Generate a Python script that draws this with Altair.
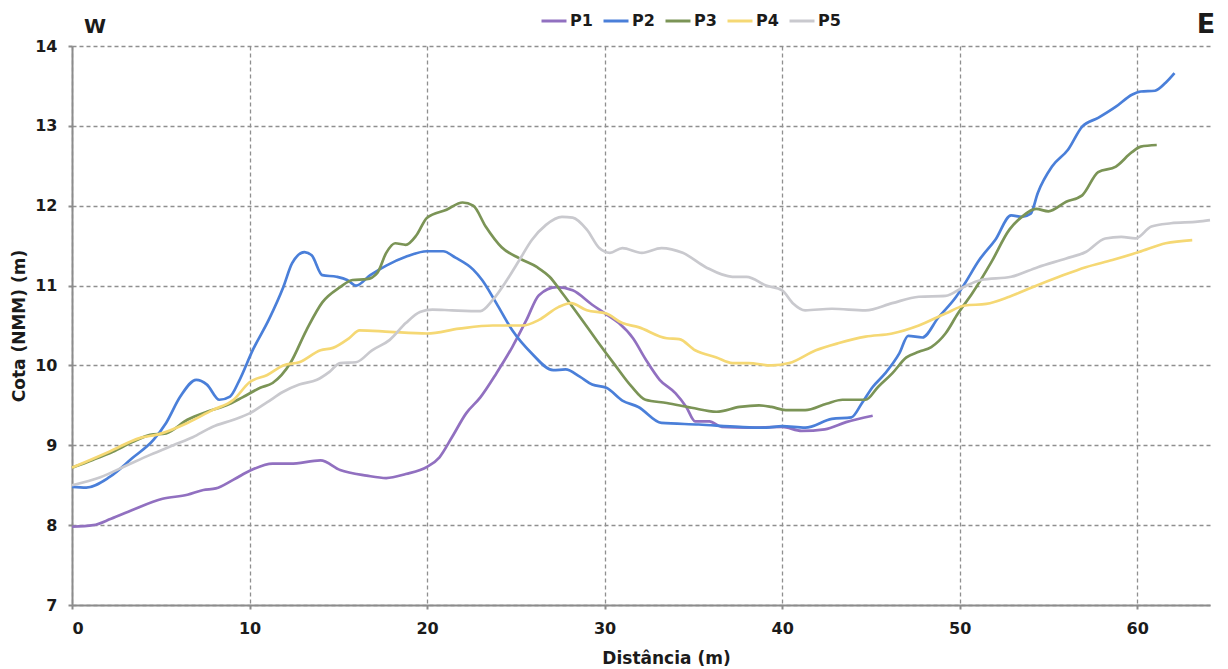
import altair as alt
import pandas as pd

series_names = ["P1", "P2", "P3", "P4", "P5"]
series_colors = ["#9170c0", "#4a7fd9", "#7b9456", "#f5d874", "#c9c9ce"]

p1_x = [0, 1.2, 2.2, 3.4, 5.1, 6.5, 7.4, 8.1, 9.1, 10.1, 11.3, 12.3, 14.0, 15.1, 16.6,
        17.7, 18.8, 20.0, 20.7, 21.4, 22.2, 23.0, 23.9, 24.8, 25.6, 26.3, 27.3, 28.2, 29.3, 30.1,
        30.8, 31.6, 32.3, 33.1, 34.0, 34.6, 35.1, 35.9, 36.6, 38.1, 40.0, 41.1, 42.4, 43.6, 45.1]
p1_y = [7.98, 8.0, 8.08, 8.19, 8.33, 8.38, 8.44, 8.46, 8.57, 8.69, 8.77, 8.77, 8.81, 8.69, 8.62,
        8.59, 8.64, 8.73, 8.85, 9.1, 9.4, 9.6, 9.9, 10.23, 10.57, 10.88, 10.98, 10.94, 10.76, 10.64,
        10.53, 10.34, 10.08, 9.82, 9.65, 9.48, 9.3, 9.3, 9.23, 9.22, 9.23, 9.18, 9.2, 9.29, 9.37]

p2_x = [0, 0.8, 2.1, 3.4, 4.6, 5.3, 6.1, 7.0, 7.6, 8.3, 8.9, 9.4, 10.2, 11.1, 11.9,
        12.4, 13.1, 13.5, 14.1, 14.9, 15.5, 16.0, 16.8, 17.7, 18.8, 20.0, 20.9, 21.6, 22.6, 23.1,
        23.9, 24.8, 25.9, 27.1, 27.8, 28.6, 29.3, 30.1, 31.0, 31.9, 33.2, 35.3, 37.6, 39.1, 40.0,
        41.3, 42.8, 43.9, 44.5, 45.1, 45.8, 46.6, 47.1, 47.9, 48.8, 49.8, 50.3, 51.1, 52.0, 52.9,
        53.5, 54.0, 54.4, 55.2, 56.1, 56.9, 57.8, 58.8, 59.7, 60.2, 61.0, 61.6, 62.1]
p2_y = [8.48, 8.47, 8.6, 8.84, 9.07, 9.28, 9.61, 9.82, 9.76, 9.57, 9.61, 9.8, 10.2, 10.58, 10.98,
        11.28, 11.42, 11.38, 11.13, 11.11, 11.07, 11.0, 11.13, 11.25, 11.36, 11.43, 11.43, 11.35, 11.2, 11.07,
        10.78, 10.44, 10.15, 9.94, 9.95, 9.86, 9.76, 9.72, 9.56, 9.48, 9.28, 9.26, 9.23, 9.22, 9.24,
        9.22, 9.33, 9.35, 9.53, 9.73, 9.9, 10.15, 10.37, 10.35, 10.6, 10.86, 11.03, 11.32, 11.57, 11.88,
        11.86, 11.9, 12.16, 12.49, 12.7, 12.99, 13.1, 13.24, 13.39, 13.43, 13.44, 13.54, 13.66]

p3_x = [0, 1.2, 2.3, 3.4, 4.4, 5.3, 6.5, 7.6, 8.7, 9.6, 10.6, 11.3, 12.3, 13.2, 14.1,
        15.1, 15.8, 16.6, 17.2, 17.7, 18.2, 18.8, 19.4, 20.0, 21.1, 22.0, 22.6, 23.3, 24.2, 25.2,
        26.2, 26.9, 27.6, 28.6, 29.6, 30.6, 31.5, 32.3, 33.5, 34.9, 36.3, 37.6, 38.7, 39.4, 40.2,
        41.3, 42.5, 43.4, 44.7, 45.4, 46.2, 47.0, 47.7, 48.4, 49.2, 49.9, 50.7, 51.8, 52.8, 53.5,
        54.3, 55.0, 56.0, 56.9, 57.8, 58.8, 59.7, 60.2, 61.1]
p3_y = [8.72, 8.82, 8.92, 9.04, 9.13, 9.15, 9.32, 9.42, 9.5, 9.6, 9.72, 9.78, 10.03, 10.44, 10.79,
        10.98, 11.07, 11.08, 11.16, 11.41, 11.53, 11.51, 11.63, 11.85, 11.95, 12.04, 12.0, 11.74, 11.48, 11.34,
        11.23, 11.11, 10.91, 10.61, 10.3, 10.0, 9.74, 9.57, 9.53, 9.47, 9.42, 9.48, 9.5, 9.48, 9.44,
        9.44, 9.52, 9.57, 9.57, 9.73, 9.9, 10.1, 10.17, 10.23, 10.4, 10.65, 10.9, 11.3, 11.7, 11.86,
        11.96, 11.93, 12.05, 12.13, 12.42, 12.49, 12.67, 12.74, 12.76]

p4_x = [0, 2.1, 3.8, 4.9, 6.5, 7.9, 9.1, 10.0, 11.0, 11.9, 12.8, 14.0, 14.7, 15.6, 16.2,
        17.9, 20.0, 21.8, 23.7, 25.4, 26.3, 27.4, 28.1, 29.0, 30.1, 31.0, 31.9, 33.5, 34.2, 35.1,
        36.3, 37.2, 38.1, 39.4, 40.4, 41.9, 43.2, 44.7, 46.2, 47.7, 49.2, 50.3, 51.5, 52.8, 54.1,
        55.6, 57.1, 58.6, 60.1, 61.6, 63.1]
p4_y = [8.72, 8.92, 9.09, 9.14, 9.28, 9.44, 9.57, 9.79, 9.88, 10.0, 10.04, 10.19, 10.22, 10.34, 10.44,
        10.42, 10.4, 10.46, 10.5, 10.5, 10.57, 10.73, 10.78, 10.69, 10.65, 10.53, 10.48, 10.34, 10.33, 10.19,
        10.1, 10.03, 10.03, 10.0, 10.03, 10.19, 10.28, 10.36, 10.4, 10.5, 10.65, 10.75, 10.77, 10.86, 10.98,
        11.11, 11.23, 11.32, 11.42, 11.53, 11.57]

p5_x = [0, 1.6, 3.1, 4.4, 5.7, 6.8, 7.9, 9.1, 10.0, 11.0, 11.9, 12.8, 13.8, 14.5, 15.1,
        16.0, 16.9, 17.9, 18.8, 19.6, 20.3, 21.4, 23.0, 23.7, 24.5, 25.2, 25.9, 26.7, 27.6, 28.2,
        29.0, 29.7, 30.3, 31.0, 32.1, 33.2, 34.4, 35.7, 37.2, 38.0, 39.1, 40.0, 40.6, 41.3, 42.8,
        44.7, 46.2, 47.7, 49.2, 50.2, 51.2, 52.9, 54.4, 56.0, 57.1, 58.2, 59.1, 59.9, 60.8, 61.9,
        63.4, 64.1]
p5_y = [8.5, 8.6, 8.75, 8.88, 9.0, 9.1, 9.23, 9.32, 9.4, 9.54, 9.67, 9.76, 9.82, 9.92, 10.03,
        10.04, 10.19, 10.32, 10.53, 10.67, 10.7, 10.69, 10.68, 10.82, 11.07, 11.32, 11.57, 11.76, 11.86, 11.85,
        11.7, 11.47, 11.41, 11.47, 11.41, 11.47, 11.41, 11.23, 11.11, 11.11, 11.0, 10.94, 10.78, 10.69, 10.71,
        10.69, 10.78, 10.86, 10.87, 10.98, 11.07, 11.11, 11.23, 11.34, 11.42, 11.59, 11.61, 11.59, 11.74, 11.78,
        11.8, 11.82]

x_ticks = [0, 10, 20, 30, 40, 50, 60]
y_ticks = [7, 8, 9, 10, 11, 12, 13, 14]
side_left = ["W"]
side_right = ["E"]

rows = []
for name, xs, ys in zip(series_names, [p1_x, p2_x, p3_x, p4_x, p5_x], [p1_y, p2_y, p3_y, p4_y, p5_y]):
    for xv, yv in zip(xs, ys):
        rows.append({"serie": name, "x": xv, "y": yv})
df = pd.DataFrame(rows)

FONT = "DejaVu Sans"
TXT = "#1b1b1b"
AX = "#8c8c8c"

lines = alt.Chart(df).mark_line(strokeWidth=2.7, interpolate="monotone").encode(
    x=alt.X("x:Q",
            scale=alt.Scale(domain=[0, 64.1], nice=False, zero=False),
            axis=alt.Axis(values=x_ticks, title="Distância (m)", format="d",
                          labelFont=FONT, labelFontSize=16, labelFontWeight="bold", labelColor=TXT,
                          labelPadding=11, tickSize=4, tickColor=AX, tickWidth=2,
                          domainColor=AX, domainWidth=2,
                          grid=True, gridColor="#8f8f8f", gridDash=[4, 3], gridWidth=1.3,
                          titleFont=FONT, titleFontSize=17, titleFontWeight="bold", titleColor=TXT,
                          titleX=594, titleAlign="center",
                          titleY=58, titleBaseline="alphabetic")),
    y=alt.Y("y:Q",
            scale=alt.Scale(domain=[7, 14], nice=False, zero=False),
            axis=alt.Axis(values=y_ticks, title="Cota (NMM) (m)", format="d",
                          labelFont=FONT, labelFontSize=16, labelFontWeight="bold", labelColor=TXT,
                          labelPadding=11, tickSize=4, tickColor=AX, tickWidth=2,
                          domainColor=AX, domainWidth=2,
                          grid=True, gridColor="#8f8f8f", gridDash=[4, 3], gridWidth=1.3,
                          titleFont=FONT, titleFontSize=17, titleFontWeight="bold", titleColor=TXT,
                          titleX=-44, titleBaseline="bottom")),
    color=alt.Color("serie:N",
                    scale=alt.Scale(domain=series_names, range=series_colors),
                    legend=alt.Legend(orient="none", legendX=468, legendY=-39, direction="horizontal",
                                      title=None, symbolType="stroke", symbolSize=625,
                                      symbolStrokeWidth=3, labelFont=FONT, labelFontSize=16,
                                      labelFontWeight="bold", labelColor=TXT, labelOffset=2,
                                      columnPadding=4)),
)

w_text = alt.Chart(pd.DataFrame({"t": side_left})).mark_text(
    font=FONT, fontSize=20, fontWeight="bold", color=TXT, align="center", baseline="middle"
).encode(x=alt.value(23), y=alt.value(-19), text="t:N")

e_text = alt.Chart(pd.DataFrame({"t": side_right})).mark_text(
    font=FONT, fontSize=27, fontWeight="bold", color=TXT, align="center", baseline="middle"
).encode(x=alt.value(1134), y=alt.value(-21), text="t:N")

chart = alt.layer(lines, w_text, e_text).properties(
    width=1138, height=559, autosize="none",
    padding={"left": 64, "top": 38, "right": 10, "bottom": 62},
).configure_view(stroke=None)

chart.save("out.html", embed_options={"renderer": "svg", "actions": False})
